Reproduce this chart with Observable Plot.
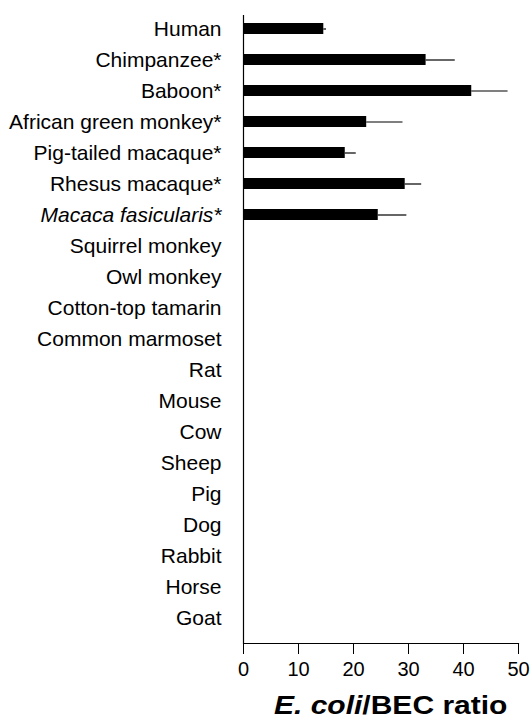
<!DOCTYPE html>
<html><head><meta charset="utf-8">
<script src="https://cdn.jsdelivr.net/npm/d3@7"></script>
<script src="https://cdn.jsdelivr.net/npm/@observablehq/plot@0.6"></script>
<style>
body{margin:0;background:#fff;font-family:"Liberation Sans",Arial,sans-serif}
#wrap{position:relative;width:532px;height:722px}
#title{position:absolute;left:274px;top:693px;font-size:25px;font-weight:bold;line-height:1;white-space:nowrap;color:#000;transform:scaleX(1.2);transform-origin:left top}
</style></head><body>
<div id="wrap"><div id="chart"></div><div id="title"><i>E. coli</i>/BEC ratio</div></div>
<script>
const species = ["Human","Chimpanzee*","Baboon*","African green monkey*","Pig-tailed macaque*","Rhesus macaque*","Macaca fasicularis*","Squirrel monkey","Owl monkey","Cotton-top tamarin","Common marmoset","Rat","Mouse","Cow","Sheep","Pig","Dog","Rabbit","Horse","Goat"];
const italicSpecies = ["Macaca fasicularis*"];
// mean ratio (null = no bar drawn)
const ratio = [14.6, 33.2, 41.5, 22.4, 18.5, 29.4, 24.5, null, null, null, null, null, null, null, null, null, null, null, null, null];
// upper end of error bar
const errorHigh = [15.1, 38.5, 48.1, 29.0, 20.5, 32.4, 29.7, null, null, null, null, null, null, null, null, null, null, null, null, null];
const xTicks = [0, 10, 20, 30, 40, 50];

const rows = species.map((s, i) => ({species: s, ratio: ratio[i], hi: errorHigh[i]})).filter(d => d.ratio != null);

const H = 690;
const chart = Plot.plot({
  width: 532, height: H,
  marginLeft: 243, marginRight: 14, marginTop: 15, marginBottom: H - 643,
  style: {fontFamily: "'Liberation Sans', Arial, sans-serif", background: "white", color: "black"},
  x: {domain: [0, 50]},
  y: {domain: species, range: [9.9, 635.3], paddingInner: 0.65, paddingOuter: 0.325},
  marks: [
    Plot.barX(rows, {y: "species", x: "ratio", fill: "black"}),
    Plot.ruleY(rows, {y: "species", x1: "ratio", x2: "hi", stroke: "black", strokeWidth: 1.2}),
    Plot.ruleX(rows, {x: "hi", y: "species", insetTop: 2.5, insetBottom: 2.5, stroke: "black", strokeWidth: 1.5}),
    Plot.ruleX([0], {stroke: "black", strokeWidth: 1.2}),
    Plot.frame({anchor: "bottom", stroke: "black", strokeWidth: 1.2}),
    Plot.axisX({ticks: xTicks, tickSize: 11, tickPadding: 7, fontSize: 20, label: null, stroke: "black"}),
    Plot.axisY(species.filter(s => !italicSpecies.includes(s)), {tickSize: 0, tickPadding: 22, fontSize: 21, label: null}),
    Plot.axisY(italicSpecies, {tickSize: 0, tickPadding: 22, fontSize: 21, label: null, fontStyle: "italic"})
  ]
});
document.getElementById("chart").appendChild(chart);
</script>
</body></html>
